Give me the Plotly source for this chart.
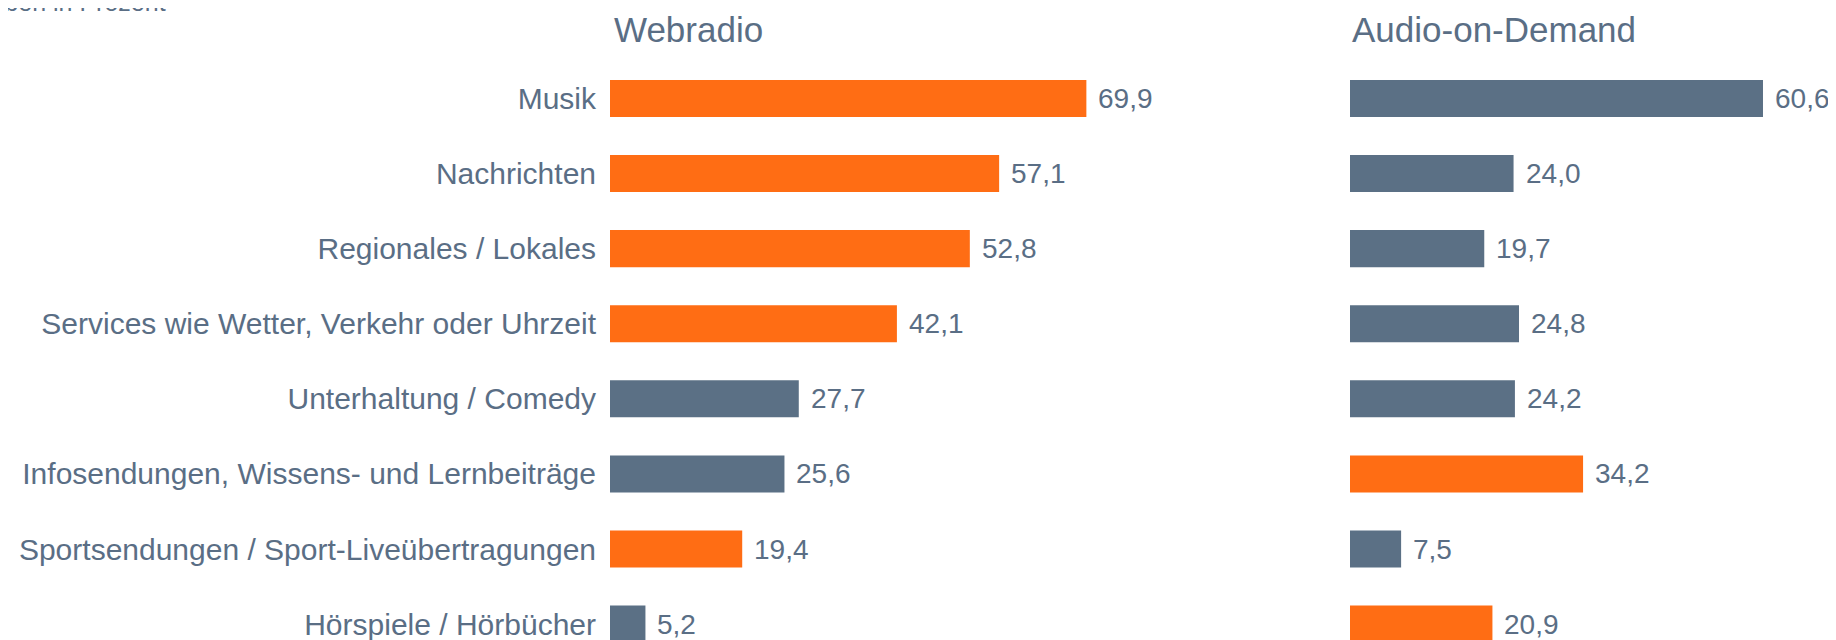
import plotly.graph_objects as go

# Data
categories = [
    "Musik",
    "Nachrichten",
    "Regionales / Lokales",
    "Services wie Wetter, Verkehr oder Uhrzeit",
    "Unterhaltung / Comedy",
    "Infosendungen, Wissens- und Lernbeiträge",
    "Sportsendungen / Sport-Liveübertragungen",
    "Hörspiele / Hörbücher",
]
webradio = [69.9, 57.1, 52.8, 42.1, 27.7, 25.6, 19.4, 5.2]
audio_on_demand = [60.6, 24.0, 19.7, 24.8, 24.2, 34.2, 7.5, 20.9]
# which bars are highlighted in orange
webradio_highlight = [True, True, True, True, False, False, True, False]
aod_highlight = [False, False, False, False, False, True, False, True]
panel_titles = ["Webradio", "Audio-on-Demand"]
note_text = "Angaben in Prozent"

ORANGE = "#FF6D14"
SLATE = "#5B7085"
TEXT = "#5A6E85"
FONT = "Liberation Sans, Arial, sans-serif"

W, H = 1836, 640
PX_PER_UNIT = 6.815


def fmt(v):
    return f"{v:.1f}".replace(".", ",")


fig = go.Figure()

for i, (vals, hl) in enumerate([(webradio, webradio_highlight), (audio_on_demand, aod_highlight)]):
    xa = "x" if i == 0 else "x2"
    ya = "y" if i == 0 else "y2"
    fig.add_trace(go.Bar(
        x=vals,
        y=categories,
        orientation="h",
        width=0.493,
        marker=dict(color=[ORANGE if h else SLATE for h in hl], line=dict(width=0)),
        xaxis=xa,
        yaxis=ya,
        hoverinfo="x+y",
        showlegend=False,
    ))
    # value labels next to the bars
    for cat, v in zip(categories, vals):
        fig.add_annotation(
            x=v, y=cat, xref=xa, yref=ya,
            text=fmt(v), showarrow=False,
            xanchor="left", yanchor="middle", xshift=10,
            font=dict(size=28, color=TEXT, family=FONT),
        )

# panel titles
for x_px, title in zip([604, 1342], panel_titles):
    fig.add_annotation(
        x=x_px / W, y=1 - 21 / H, xref="paper", yref="paper",
        text=title, showarrow=False, xanchor="left", yanchor="middle",
        font=dict(size=35, color=TEXT, family=FONT),
    )

# note at the top left, mostly cut off by the frame
fig.add_annotation(
    x=160 / W, y=1 - 10 / H, xref="paper", yref="paper",
    text=note_text, showarrow=False, xanchor="right", yanchor="bottom",
    font=dict(size=25, color=TEXT, family=FONT),
)

y_range = [7.318, -1.204]

fig.update_layout(
    width=W, height=H,
    margin=dict(l=0, r=0, t=0, b=0),
    paper_bgcolor="white",
    plot_bgcolor="white",
    font=dict(family=FONT, color=TEXT),
    xaxis=dict(domain=[602 / W, 1102 / W], range=[0, 500 / PX_PER_UNIT],
               visible=False, fixedrange=True),
    xaxis2=dict(domain=[1342 / W, 1792 / W], range=[0, 450 / PX_PER_UNIT],
                visible=False, fixedrange=True),
    yaxis=dict(domain=[0, 1], range=y_range, type="category",
               categoryorder="array", categoryarray=categories,
               showgrid=False, zeroline=False, showline=False, ticks="",
               ticklabelstandoff=13,
               tickfont=dict(size=30, color=TEXT, family=FONT)),
    yaxis2=dict(domain=[0, 1], range=y_range, type="category",
                categoryorder="array", categoryarray=categories,
                anchor="x2", showticklabels=False, showgrid=False,
                zeroline=False, showline=False, ticks=""),
    bargap=0.5,
)

fig.write_html("out.html")
